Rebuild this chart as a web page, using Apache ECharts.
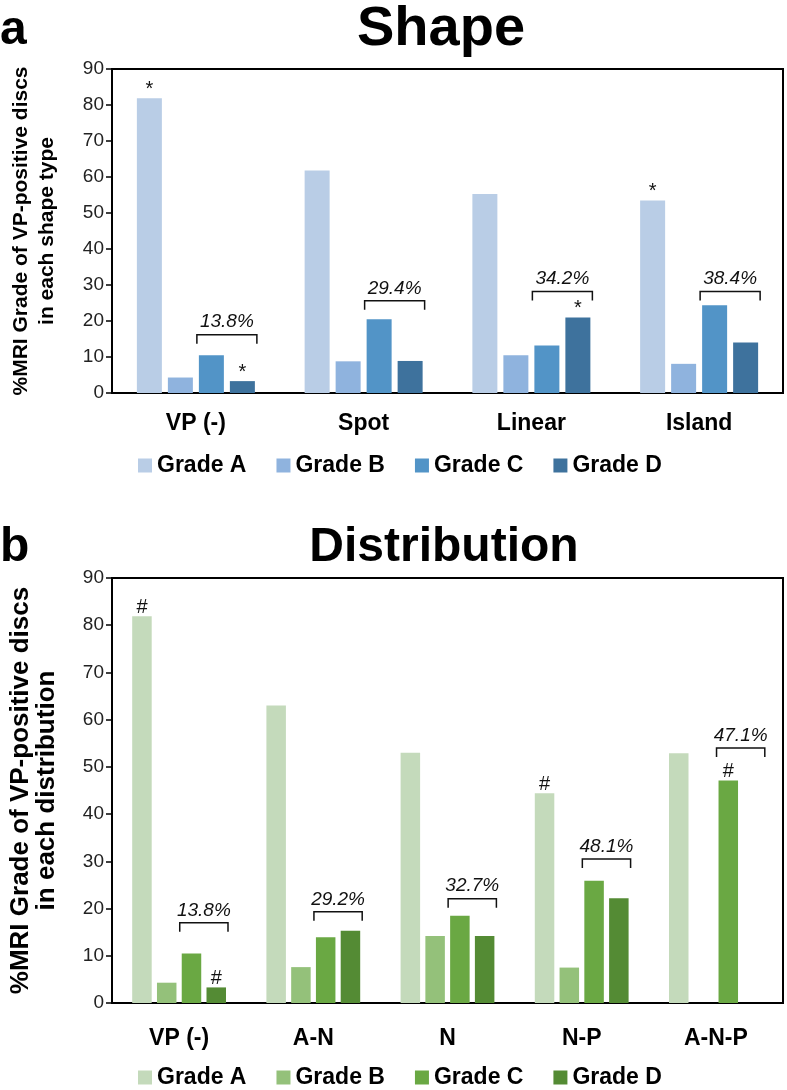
<!DOCTYPE html>
<html>
<head>
<meta charset="utf-8">
<script src="https://cdn.jsdelivr.net/npm/echarts@6.0.0/dist/echarts.min.js"></script>
<style>
  html, body { margin: 0; padding: 0; background: #fff; }
  #chart { width: 787px; height: 1090px; }
</style>
</head>
<body>
<div id="chart"></div>
<script>
// ---- data ----
var grades = ['Grade A', 'Grade B', 'Grade C', 'Grade D'];

var shapeCats = ['VP (-)', 'Spot', 'Linear', 'Island'];
var shapeA = [81.9, 61.8, 55.3, 53.5];
var shapeB = [4.3, 8.8, 10.5, 8.1];
var shapeC = [10.5, 20.5, 13.2, 24.4];
var shapeD = [3.3, 8.9, 21.0, 14.0];
var shapePct = ['13.8%', '29.4%', '34.2%', '38.4%'];
var shapeBracket = [16.2, 25.6, 28.2, 28.2];
var shapeMarkA = ['*', '', '', '*'];
var shapeMarkD = ['*', '', '*', ''];

var distCats = ['VP (-)', 'A-N', 'N', 'N-P', 'A-N-P'];
var distA = [81.9, 63.0, 53.0, 44.4, 52.9];
var distB = [4.3, 7.6, 14.2, 7.5, 0];
var distC = [10.5, 13.9, 18.5, 25.9, 47.1];
var distD = [3.3, 15.3, 14.2, 22.2, 0];
var distPct = ['13.8%', '29.2%', '32.7%', '48.1%', '47.1%'];
var distBracket = [17.0, 19.3, 22.1, 30.5, 54.0];
var distMarkA = ['#', '', '', '#', ''];
var distMarkC = ['', '', '', '', '#'];
var distMarkD = ['#', '', '', '', ''];

var blues = ['#b9cde6', '#8fb3de', '#5294c7', '#3e729d'];
var greens = ['#c4dabb', '#94c17a', '#6aa843', '#548b34'];

var FONT = '"Liberation Sans", Arial, sans-serif';

function barSeries(name, vals, marks, color, idx, bw, gap) {
    return {
        name: name,
        type: 'bar',
        xAxisIndex: idx,
        yAxisIndex: idx,
        barWidth: bw,
        barGap: gap,
        itemStyle: { color: color },
        data: vals.map(function (v, i) {
            if (marks && marks[i]) {
                return {
                    value: v,
                    label: {
                        show: true, position: 'top', distance: -1,
                        formatter: marks[i], color: '#111',
                        fontSize: 20, fontFamily: FONT
                    }
                };
            }
            return v;
        })
    };
}

// bracket over the Grade C + Grade D pair, with the % text above it
function bracketSeries(idx, levels, texts, bw, gapRatio) {
    return {
        type: 'custom',
        xAxisIndex: idx,
        yAxisIndex: idx,
        silent: true,
        z: 5,
        data: levels.map(function (v, i) { return [i, v]; }),
        renderItem: function (params, api) {
            var p = api.coord([api.value(0), api.value(1)]);
            var gap = bw * gapRatio;
            var total = 4 * bw + 3 * gap;
            var x0 = p[0] - total / 2 + 2 * (bw + gap) - 2;
            var x1 = p[0] + total / 2 + 2;
            var y = p[1];
            return {
                type: 'group',
                children: [
                    {
                        type: 'polyline',
                        shape: { points: [[x0, y + 9], [x0, y], [x1, y], [x1, y + 9]] },
                        style: { stroke: '#111', lineWidth: 1.5, fill: null }
                    },
                    {
                        type: 'text',
                        style: {
                            text: texts[params.dataIndex],
                            x: (x0 + x1) / 2, y: y - 3,
                            align: 'center', verticalAlign: 'bottom',
                            fontSize: 19, fontStyle: 'italic', fontFamily: FONT,
                            fill: '#111'
                        }
                    }
                ]
            };
        }
    };
}

function xAxisOpt(idx, cats, margin) {
    return {
        type: 'category',
        gridIndex: idx,
        data: cats,
        axisTick: { show: false },
        axisLine: { lineStyle: { color: '#000', width: 2 } },
        axisLabel: { color: '#000', fontSize: 23, fontWeight: 'bold', fontFamily: FONT, margin: margin }
    };
}

function yAxisOpt(idx, name, nameSize) {
    return {
        type: 'value',
        gridIndex: idx,
        min: 0, max: 90, interval: 10,
        name: name,
        nameLocation: 'middle',
        nameRotate: 90,
        nameGap: 52,
        nameTextStyle: { color: '#000', fontSize: nameSize, fontWeight: 'bold', fontFamily: FONT, lineHeight: 26 },
        splitLine: { show: false },
        axisLine: { show: true, lineStyle: { color: '#000', width: 2 } },
        axisTick: { show: true, length: 6, lineStyle: { color: '#000', width: 1.5 } },
        axisLabel: { color: '#222', fontSize: 19, fontFamily: FONT, margin: 8 }
    };
}

function legendOpt(top, colors) {
    return {
        top: top,
        left: 133,
        icon: 'rect',
        itemWidth: 14,
        itemHeight: 14,
        itemGap: 30,
        selectedMode: false,
        textStyle: { color: '#000', fontSize: 23, fontWeight: 'bold', fontFamily: FONT },
        data: grades.map(function (g, i) {
            return { name: g, itemStyle: { color: colors[i] } };
        })
    };
}

var topBW = 25, topGap = 0.24;
var botBW = 19.5, botGap = 0.27;

var option = {
    animation: false,
    backgroundColor: '#fff',
    graphic: [
        { type: 'text', style: { text: 'a', x: 0, y: 31, verticalAlign: 'middle', fontSize: 48, fontWeight: 'bold', fontFamily: FONT, fill: '#000' } },
        { type: 'text', style: { text: 'Shape', x: 441, y: 30, align: 'center', verticalAlign: 'middle', fontSize: 56, fontWeight: 'bold', fontFamily: FONT, fill: '#000' } },
        { type: 'text', style: { text: 'b', x: 0, y: 548, verticalAlign: 'middle', fontSize: 48, fontWeight: 'bold', fontFamily: FONT, fill: '#000' } },
        { type: 'text', style: { text: 'Distribution', x: 444, y: 548, align: 'center', verticalAlign: 'middle', fontSize: 48, fontWeight: 'bold', fontFamily: FONT, fill: '#000' } }
    ],
    legend: [legendOpt(449, blues), legendOpt(1061, greens)],
    grid: [
        { left: 103, right: 4, top: 69, height: 324, show: true, borderColor: '#000', borderWidth: 2, backgroundColor: 'transparent' },
        { left: 103, right: 4, top: 578, height: 425, show: true, borderColor: '#000', borderWidth: 2, backgroundColor: 'transparent' }
    ],
    xAxis: [xAxisOpt(0, shapeCats, 19), xAxisOpt(1, distCats, 24)],
    yAxis: [
        yAxisOpt(0, '%MRI Grade of VP-positive discs\nin each shape type', 21),
        yAxisOpt(1, '%MRI Grade of VP-positive discs\nin each distribution', 26)
    ],
    series: [
        barSeries('Grade A', shapeA, shapeMarkA, blues[0], 0, topBW, topGap),
        barSeries('Grade B', shapeB, null, blues[1], 0, topBW, topGap),
        barSeries('Grade C', shapeC, null, blues[2], 0, topBW, topGap),
        barSeries('Grade D', shapeD, shapeMarkD, blues[3], 0, topBW, topGap),
        bracketSeries(0, shapeBracket, shapePct, topBW, topGap),
        barSeries('Grade A', distA, distMarkA, greens[0], 1, botBW, botGap),
        barSeries('Grade B', distB, null, greens[1], 1, botBW, botGap),
        barSeries('Grade C', distC, distMarkC, greens[2], 1, botBW, botGap),
        barSeries('Grade D', distD, distMarkD, greens[3], 1, botBW, botGap),
        bracketSeries(1, distBracket, distPct, botBW, botGap)
    ]
};

var myChart = echarts.init(document.getElementById('chart'));
myChart.setOption(option);
</script>
</body>
</html>
